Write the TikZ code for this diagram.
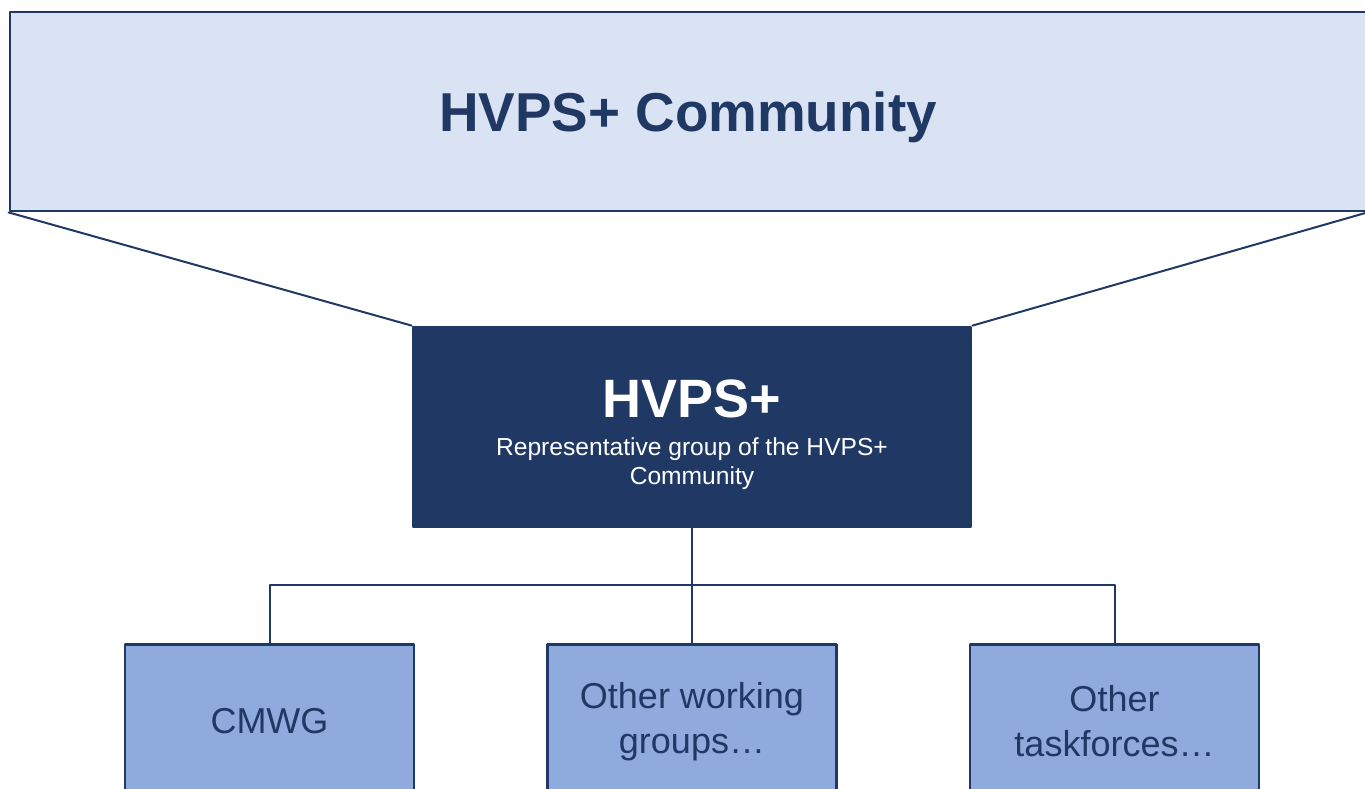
\documentclass[tikz,border=0pt]{standalone}
\usepackage{fontspec}
\setmainfont{Liberation Sans}
\usetikzlibrary{positioning}
\definecolor{navy}{HTML}{203864}
\definecolor{paleblue}{HTML}{DAE3F3}
\definecolor{midblue}{HTML}{8FAADC}

\begin{document}
\begin{tikzpicture}[x=0.5pt, y=-0.5pt, line join=round, line cap=round,
	box/.style={draw=navy, line width=1.4pt, inner sep=0pt},
	wire/.style={draw=navy, line width=1pt},
	group/.style={box, fill=midblue, minimum width=144.5pt, minimum height=77pt, anchor=north,
		text=navy, align=center, font=\fontsize{18}{22.5}\selectfont}]
	\def\W{1365} \def\H{788}
	\useasboundingbox (0,0) rectangle (\W,\H);
	% community banner
	\node[box, fill=paleblue, minimum width=678pt, minimum height=99.5pt, text=navy, text depth=0pt,
		font=\fontsize{27.4}{32}\selectfont\bfseries] (community) at (688,111.5) {HVPS+ Community};
	% representative group
	\node[box, fill=navy, minimum width=279pt, minimum height=100pt] (hvps) at (692,427) {};
	\node[anchor=base, text=white, font=\fontsize{27}{32}\selectfont\bfseries] (hvpstitle) at (692,417) {HVPS+};
	\node[below=7pt of hvpstitle.base, text=white, align=center, font=\fontsize{12.3}{14.5}\selectfont] (hvpssub)
		{Representative group of the HVPS+\\Community};
	\draw[wire] (community.south west) -- (hvps.north west);
	\draw[wire] (community.south east) -- (hvps.north east);
	% working groups and taskforces
	\coordinate (bus) at (692,585);
	\foreach \name/\x/\txt in {cmwg/269.5/CMWG, wg/692/Other working\\groups…, tf/1114.5/Other\\taskforces…}
		{\node[group] (\name) at (\x,643) {\txt};}
	\draw[wire] (hvps.south) -- (wg.north);
	\draw[wire] (cmwg.north) |- (bus) -| (tf.north);
\end{tikzpicture}
\end{document}
